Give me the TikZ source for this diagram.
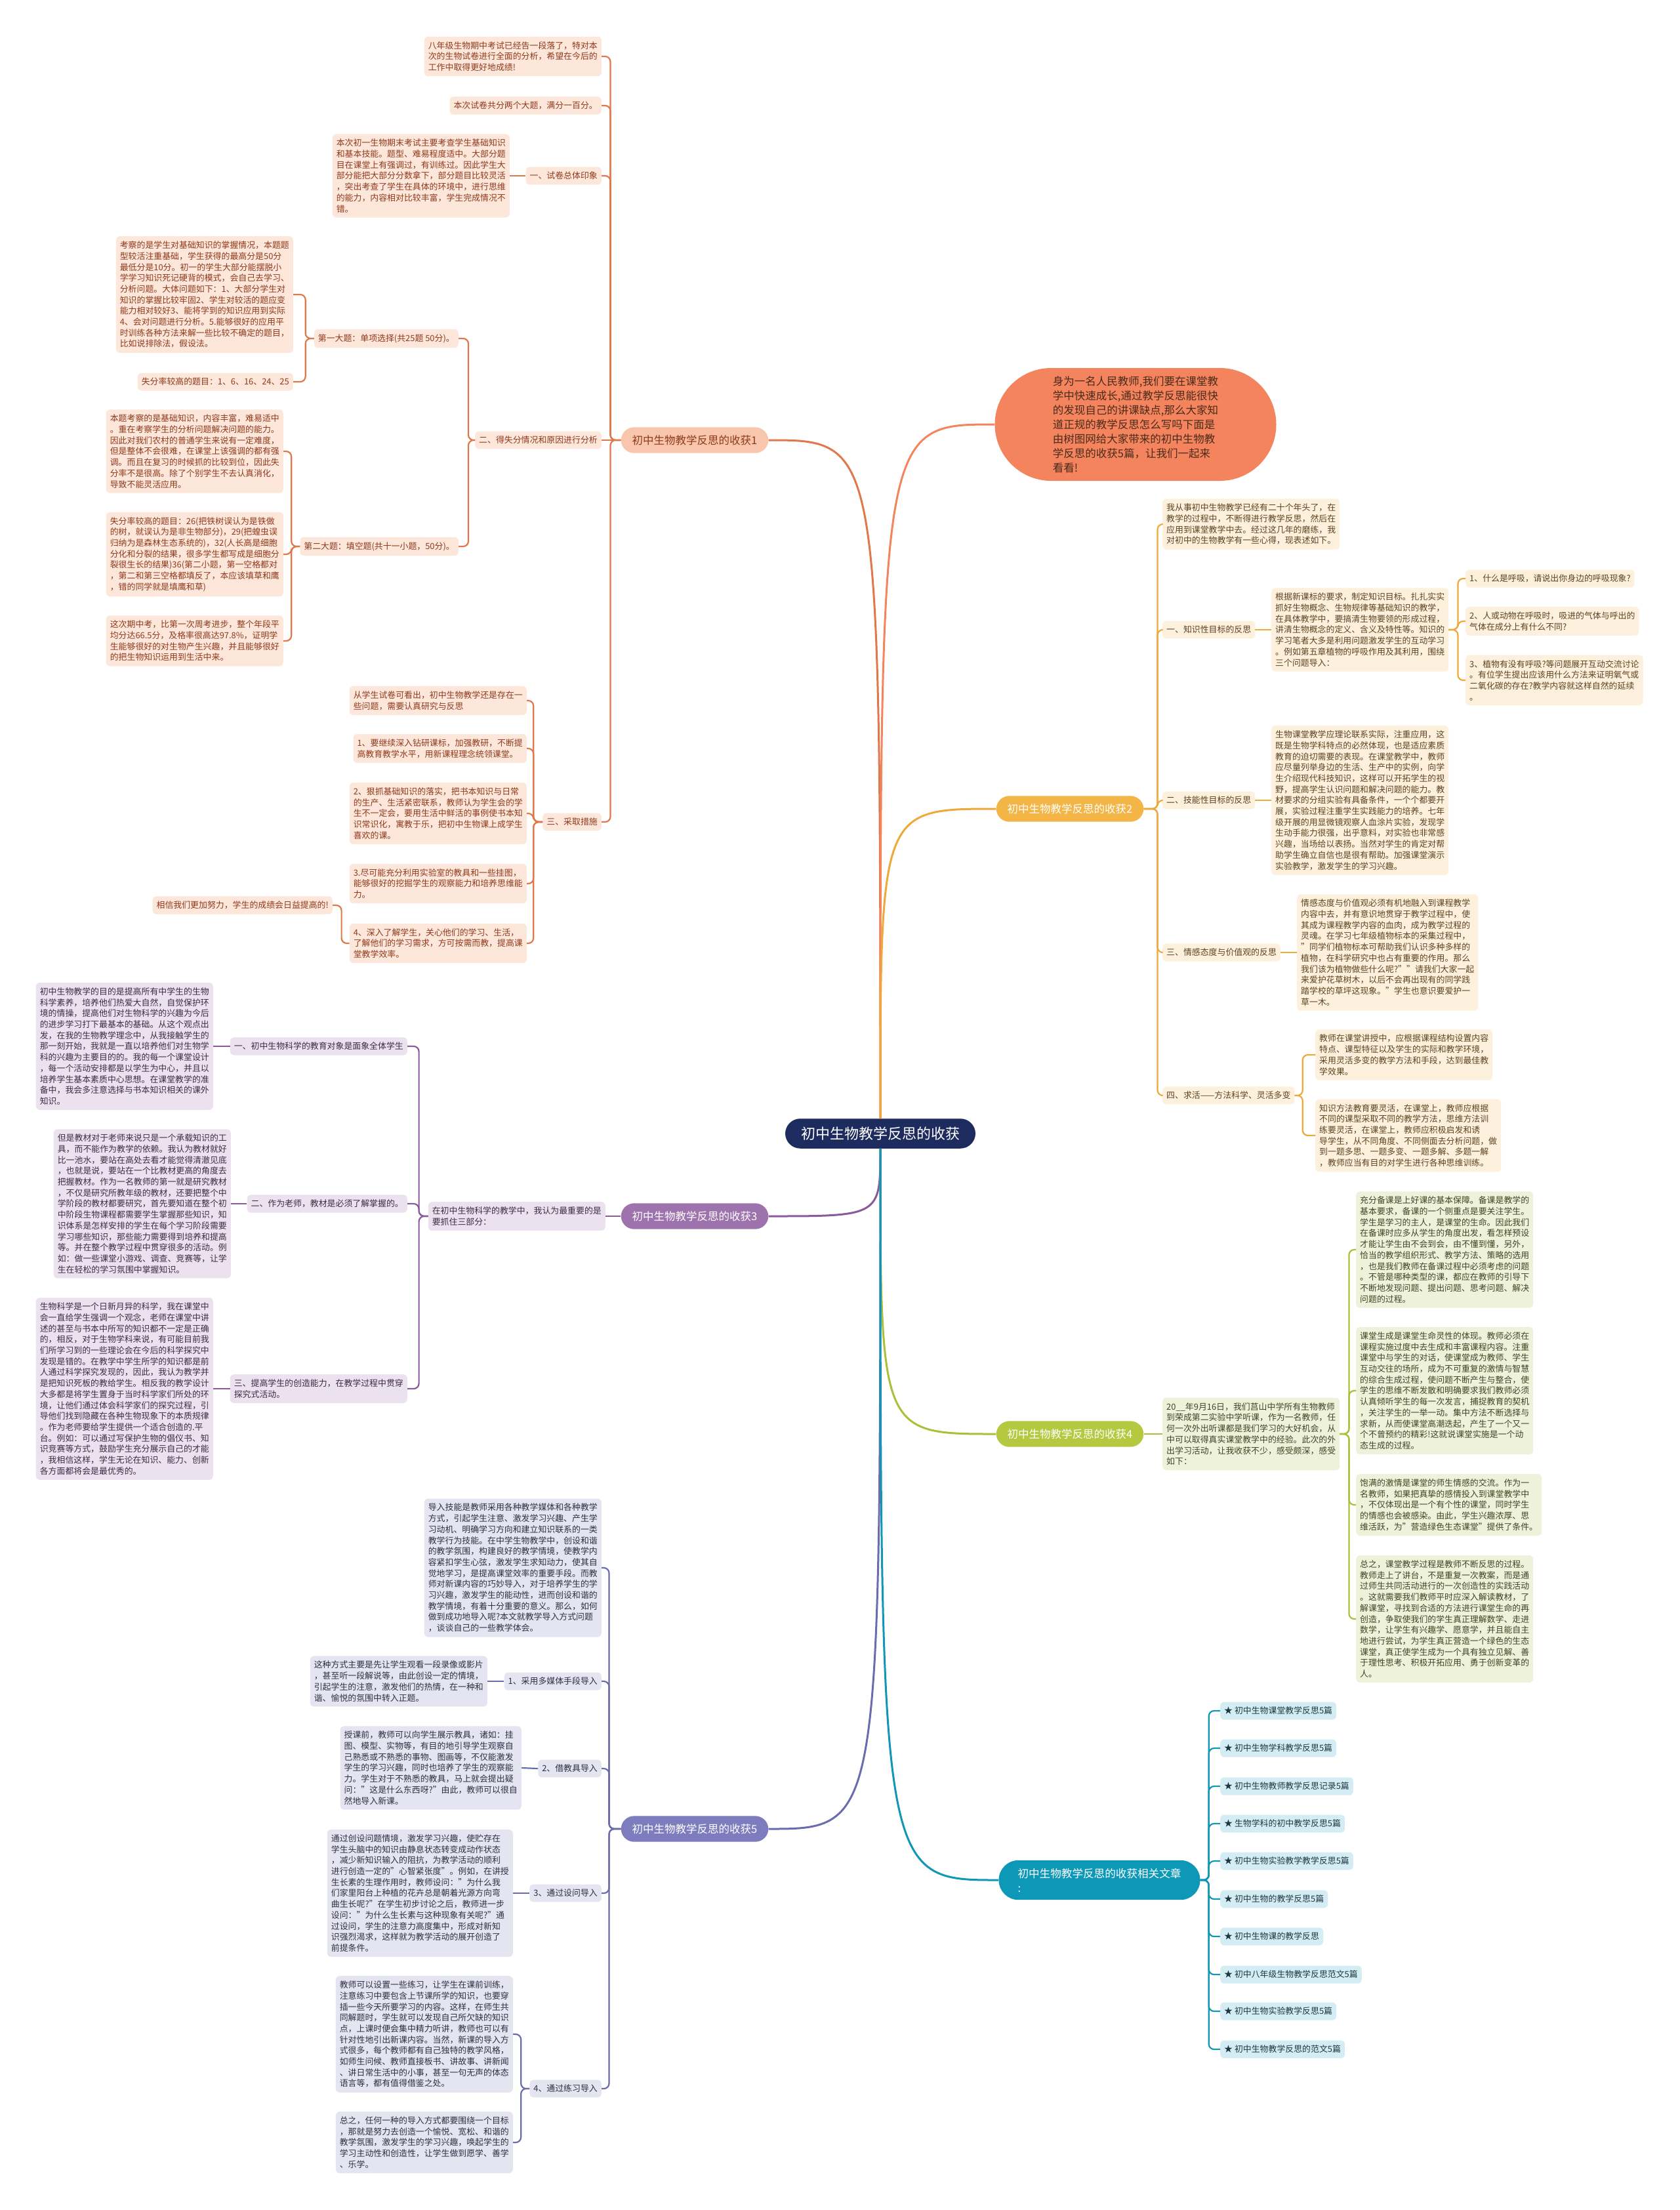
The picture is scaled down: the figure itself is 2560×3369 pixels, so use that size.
\documentclass[tikz,border=0pt]{standalone}
\usepackage{fontspec}
\setmainfont{Noto Sans CJK SC}
\usepackage{xcolor}
\usepackage{tikz}

\definecolor{hubFill}{HTML}{1D2B5E}
\definecolor{introFill}{HTML}{F4845E}
\definecolor{introText}{HTML}{4A2A1A}
\definecolor{orgLine}{HTML}{E0784C}
\definecolor{orgFill}{HTML}{FDE6DA}
\definecolor{orgText}{HTML}{8E3A1C}
\definecolor{orgTop}{HTML}{F8C6AC}
\definecolor{yelLine}{HTML}{EFA93A}
\definecolor{yelFill}{HTML}{FDF0DC}
\definecolor{yelText}{HTML}{5C4322}
\definecolor{yelTop}{HTML}{F3B545}
\definecolor{purLine}{HTML}{8A5A9C}
\definecolor{purFill}{HTML}{ECE1EF}
\definecolor{purText}{HTML}{3B2C44}
\definecolor{purTop}{HTML}{9D72AD}
\definecolor{grnLine}{HTML}{A7C23A}
\definecolor{grnFill}{HTML}{EEF2DA}
\definecolor{grnText}{HTML}{3F4523}
\definecolor{grnTop}{HTML}{B4C940}
\definecolor{bluLine}{HTML}{6B6BB0}
\definecolor{bluFill}{HTML}{E5E5F1}
\definecolor{bluText}{HTML}{2E2E44}
\definecolor{bluTop}{HTML}{7C7CBE}
\definecolor{tealLine}{HTML}{1197B6}
\definecolor{tealFill}{HTML}{D4EDF4}
\definecolor{tealText}{HTML}{1F3640}
\definecolor{tealTop}{HTML}{0E98B8}

\begin{document}
\begin{tikzpicture}[x=1pt, y=-1pt,
    every node/.style={font=\fontsize{12.9}{16.7}\selectfont, align=left,
        inner xsep=6pt, inner ysep=7.5pt, rounded corners=6pt},
    hub/.style={fill=hubFill, text=white, font=\fontsize{22}{26}\selectfont,
        inner xsep=24pt, inner ysep=12.5pt, rounded corners=23pt},
    gainbox/.style={font=\fontsize{16.5}{20}\selectfont, text=white,
        inner xsep=17pt, inner ysep=12pt, rounded corners=20pt},
    leafOrg/.style={fill=orgFill, text=orgText},
    leafYel/.style={fill=yelFill, text=yelText},
    leafPur/.style={fill=purFill, text=purText},
    leafGrn/.style={fill=grnFill, text=grnText},
    leafBlu/.style={fill=bluFill, text=bluText},
    leafTeal/.style={fill=tealFill, text=tealText},
    linkOrg/.style={draw=orgLine, line width=2.2pt, rounded corners=8pt},
    linkYel/.style={draw=yelLine, line width=2.2pt, rounded corners=8pt},
    linkPur/.style={draw=purLine, line width=2.2pt, rounded corners=8pt},
    linkGrn/.style={draw=grnLine, line width=2.2pt, rounded corners=8pt},
    linkBlu/.style={draw=bluLine, line width=2.2pt, rounded corners=8pt},
    linkTeal/.style={draw=tealLine, line width=2.2pt, rounded corners=8pt},
    hubLink/.style={line width=3pt}]

    \fill[white] (0,0) rectangle (2560,3369);
    \useasboundingbox (0,0) rectangle (2560,3369);

    % Nodes
    \node (hub) [hub] at (1342,1728) {初中生物教学反思的收获};

    \node (gain1) [gainbox, fill=orgTop, text=orgText] at (1059,671) {初中生物教学反思的收获1};
    \node (intro) [fill=introFill, text=introText, font=\fontsize{16.5}{22}\selectfont,
        minimum width=429pt, minimum height=172pt, rounded corners=86pt] at (1731,647)
        {身为一名人民教师,我们要在课堂教\\学中快速成长,通过教学反思能很快\\的发现自己的讲课缺点,那么大家知\\道正规的教学反思怎么写吗下面是\\由树图网给大家带来的初中生物教\\学反思的收获5篇，让我们一起来\\看看!};
    \node (gain2) [gainbox, fill=yelTop] at (1631,1233) {初中生物教学反思的收获2};
    \node (gain3) [gainbox, fill=purTop] at (1059,1854) {初中生物教学反思的收获3};
    \node (gain4) [gainbox, fill=grnTop] at (1631,2186) {初中生物教学反思的收获4};
    \node (gain5) [gainbox, fill=bluTop] at (1059,2788) {初中生物教学反思的收获5};
    \node (more) [gainbox, fill=tealTop, inner xsep=29pt, rounded corners=30pt,
        font=\fontsize{16.6}{22}\selectfont] at (1676,2866) {初中生物教学反思的收获相关文章\\:};

    % Branch 1
    \node (b1a) [leafOrg, anchor=east] at (917,86) {八年级生物期中考试已经告一段落了，特对本\\次的生物试卷进行全面的分析，希望在今后的\\工作中取得更好地成绩!};
    \node (b1b) [leafOrg, anchor=east] at (917,161) {本次试卷共分两个大题，满分一百分。};
    \node (b1c) [leafOrg, anchor=east] at (917,268) {一、试卷总体印象};
    \node (b1c1) [leafOrg, anchor=east] at (777,268) {本次初一生物期末考试主要考查学生基础知识\\和基本技能。题型、难易程度适中。大部分题\\目在课堂上有强调过，有训练过。因此学生大\\部分能把大部分分数拿下，部分题目比较灵活\\，突出考查了学生在具体的环境中，进行思维\\的能力，内容相对比较丰富，学生完成情况不\\错。};
    \node (b1d) [leafOrg, anchor=east] at (917,671) {二、得失分情况和原因进行分析};
    \node (b1d1) [leafOrg, anchor=east] at (699,516) {第一大题：单项选择(共25题 50分)。};
    \node (b1d1a) [leafOrg, anchor=east] at (447,449) {考察的是学生对基础知识的掌握情况，本题题\\型较活注重基础，学生获得的最高分是50分\\最低分是10分。初一的学生大部分能摆脱小\\学学习知识死记硬背的模式，会自己去学习、\\分析问题。大体问题如下：1、大部分学生对\\知识的掌握比较牢固2、学生对较活的题应变\\能力相对较好3、能将学到的知识应用到实际\\4、会对问题进行分析。5.能够很好的应用平\\时训练各种方法来解一些比较不确定的题目，\\比如说排除法，假设法。};
    \node (b1d1b) [leafOrg, anchor=east] at (447,582) {失分率较高的题目：1、6、16、24、25};
    \node (b1d2) [leafOrg, anchor=east] at (699,833) {第二大题：填空题(共十一小题，50分)。};
    \node (b1d2a) [leafOrg, anchor=east] at (432,688) {本题考察的是基础知识，内容丰富，难易适中\\。重在考察学生的分析问题解决问题的能力。\\因此对我们农村的普通学生来说有一定难度，\\但是整体不会很难，在课堂上该强调的都有强\\调。而且在复习的时候抓的比较到位，因此失\\分率不是很高。除了个别学生不去认真消化，\\导致不能灵活应用。};
    \node (b1d2b) [leafOrg, anchor=east] at (432,845) {失分率较高的题目：26(把铁树误认为是铁做\\的树，就误认为是非生物部分)，29(把蝗虫误\\归纳为是森林生态系统的)，32(人长高是细胞\\分化和分裂的结果，很多学生都写成是细胞分\\裂很生长的结果)36(第二小题，第一空格都对\\，第二和第三空格都填反了，本应该填草和鹰\\，错的同学就是填鹰和草)};
    \node (b1d2c) [leafOrg, anchor=east] at (432,977) {这次期中考，比第一次周考进步，整个年段平\\均分达66.5分，及格率很高达97.8\%，证明学\\生能够很好的对生物产生兴趣，并且能够很好\\的把生物知识运用到生活中来。};
    \node (b1e) [leafOrg, anchor=east] at (917,1253) {三、采取措施};
    \node (b1e1) [leafOrg, anchor=east] at (803,1068) {从学生试卷可看出，初中生物教学还是存在一\\些问题，需要认真研究与反思};
    \node (b1e2) [leafOrg, anchor=east] at (803,1141) {1、要继续深入钻研课标，加强教研，不断提\\高教育教学水平，用新课程理念统领课堂。};
    \node (b1e3) [leafOrg, anchor=east] at (803,1240) {2、狠抓基础知识的落实，把书本知识与日常\\的生产、生活紧密联系，教师认为学生会的学\\生不一定会，要用生活中鲜活的事例使书本知\\识常识化，寓教于乐，把初中生物课上成学生\\喜欢的课。};
    \node (b1e4) [leafOrg, anchor=east] at (803,1347) {3.尽可能充分利用实验室的教具和一些挂图，\\能够很好的挖掘学生的观察能力和培养思维能\\力。};
    \node (b1e5) [leafOrg, anchor=east] at (803,1438) {4、深入了解学生，关心他们的学习、生活，\\了解他们的学习需求，方可按需而教，提高课\\堂教学效率。};
    \node (b1e5a) [leafOrg, anchor=east] at (507,1380) {相信我们更加努力，学生的成绩会日益提高的!};

    % Branch 2
    \node (b2a) [leafYel, anchor=west] at (1772,799) {我从事初中生物教学已经有二十个年头了，在\\教学的过程中，不断得进行教学反思，然后在\\应用到课堂教学中去。经过这几年的磨练，我\\对初中的生物教学有一些心得，现表述如下。};
    \node (b2b) [leafYel, anchor=west] at (1772,960) {一、知识性目标的反思};
    \node (b2b1) [leafYel, anchor=west] at (1938,960) {根据新课标的要求，制定知识目标。扎扎实实\\抓好生物概念、生物规律等基础知识的教学，\\在具体教学中，要搞清生物要领的形成过程，\\讲清生物概念的定义、含义及特性等。知识的\\学习笔者大多是利用问题激发学生的互动学习\\。例如第五章植物的呼吸作用及其利用，围绕\\三个问题导入：};
    \node (b2b1a) [leafYel, anchor=west] at (2234,882) {1、什么是呼吸，请说出你身边的呼吸现象?};
    \node (b2b1b) [leafYel, anchor=west] at (2234,947) {2、人或动物在呼吸时，吸进的气体与呼出的\\气体在成分上有什么不同?};
    \node (b2b1c) [leafYel, anchor=west] at (2234,1037) {3、植物有没有呼吸?等问题展开互动交流讨论\\。有位学生提出应该用什么方法来证明氧气或\\二氧化碳的存在?教学内容就这样自然的延续\\。};
    \node (b2c) [leafYel, anchor=west] at (1772,1220) {二、技能性目标的反思};
    \node (b2c1) [leafYel, anchor=west] at (1938,1220) {生物课堂教学应理论联系实际，注重应用，这\\既是生物学科特点的必然体现，也是适应素质\\教育的迫切需要的表现。在课堂教学中，教师\\应尽量列举身边的生活、生产中的实例，向学\\生介绍现代科技知识，这样可以开拓学生的视\\野，提高学生认识问题和解决问题的能力。教\\材要求的分组实验有具备条件，一个个都要开\\展，实验过程注重学生实践能力的培养。七年\\级开展的用显微镜观察人血涂片实验，发现学\\生动手能力很强，出乎意料，对实验也非常感\\兴趣，当场给以表扬。当然对学生的肯定对帮\\助学生确立自信也是很有帮助。加强课堂演示\\实验教学，激发学生的学习兴趣。};
    \node (b2d) [leafYel, anchor=west] at (1772,1452) {三、情感态度与价值观的反思};
    \node (b2d1) [leafYel, anchor=west] at (1977,1452) {情感态度与价值观必须有机地融入到课程教学\\内容中去，并有意识地贯穿于教学过程中，使\\其成为课程教学内容的血肉，成为教学过程的\\灵魂。在学习七年级植物标本的采集过程中，\\"同学们植物标本可帮助我们认识多种多样的\\植物，在科学研究中也占有重要的作用。那么\\我们该为植物做些什么呢?""请我们大家一起\\来爱护花草树木，以后不会再出现有的同学践\\踏学校的草坪这现象。"学生也意识要爱护一\\草一木。};
    \node (b2e) [leafYel, anchor=west] at (1772,1670) {四、求活——方法科学、灵活多变};
    \node (b2e1) [leafYel, anchor=west] at (2005,1608) {教师在课堂讲授中，应根据课程结构设置内容\\特点、课型特征以及学生的实际和教学环境，\\采用灵活多变的教学方法和手段，达到最佳教\\学效果。};
    \node (b2e2) [leafYel, anchor=west] at (2005,1731) {知识方法教育要灵活，在课堂上，教师应根据\\不同的课型采取不同的教学方法，思维方法训\\练要灵活，在课堂上，教师应积极启发和诱\\导学生，从不同角度、不同侧面去分析问题，做\\到一题多思、一题多变、一题多解、多题一解\\，教师应当有目的对学生进行各种思维训练。};

    % Branch 3
    \node (b3) [leafPur, anchor=east] at (923,1854) {在初中生物科学的教学中，我认为最重要的是\\要抓住三部分：};
    \node (b3a) [leafPur, anchor=east] at (621,1595) {一、初中生物科学的教育对象是面象全体学生};
    \node (b3a1) [leafPur, anchor=east] at (325,1595) {初中生物教学的目的是提高所有中学生的生物\\科学素养，培养他们热爱大自然，自觉保护环\\境的情操，提高他们对生物科学的兴趣为今后\\的进步学习打下最基本的基础。从这个观点出\\发，在我的生物教学理念中，从我接触学生的\\那一刻开始，我就是一直以培养他们对生物学\\科的兴趣为主要目的的。我的每一个课堂设计\\，每一个活动安排都是以学生为中心，并且以\\培养学生基本素质中心思想。在课堂教学的准\\备中，我会多注意选择与书本知识相关的课外\\知识。};
    \node (b3b) [leafPur, anchor=east] at (621,1835) {二、作为老师，教材是必须了解掌握的。};
    \node (b3b1) [leafPur, anchor=east] at (352,1835) {但是教材对于老师来说只是一个承载知识的工\\具，而不能作为教学的依赖。我认为教材就好\\比一池水，要站在高处去看才能觉得清澈见底\\，也就是说，要站在一个比教材更高的角度去\\把握教材。作为一名教师的第一就是研究教材\\，不仅是研究所教年级的教材，还要把整个中\\学阶段的教材都要研究，首先要知道在整个初\\中阶段生物课程都需要学生掌握那些知识，知\\识体系是怎样安排的学生在每个学习阶段需要\\学习哪些知识，那些能力需要得到培养和提高\\等。并在整个教学过程中贯穿很多的活动。例\\如：做一些课堂小游戏、调查、竞赛等，让学\\生在轻松的学习氛围中掌握知识。};
    \node (b3c) [leafPur, anchor=east] at (621,2117) {三、提高学生的创造能力，在教学过程中贯穿\\探究式活动。};
    \node (b3c1) [leafPur, anchor=east] at (325,2117) {生物科学是一个日新月异的科学，我在课堂中\\会一直给学生强调一个观念，老师在课堂中讲\\述的甚至与书本中所写的知识都不一定是正确\\的，相反，对于生物学科来说，有可能目前我\\们所学习到的一些理论会在今后的科学探究中\\发现是错的。在教学中学生所学的知识都是前\\人通过科学探究发现的，因此，我认为教学并\\是把知识死板的教给学生。相反我的教学设计\\大多都是将学生置身于当时科学家们所处的环\\境，让他们通过体会科学家们的探究过程，引\\导他们找到隐藏在各种生物现象下的本质规律\\。作为老师要给学生提供一个适合创造的.平\\台。例如：可以通过写保护生物的倡仪书、知\\识竞赛等方式，鼓励学生充分展示自己的才能\\，我相信这样，学生无论在知识、能力、创新\\各方面都将会是最优秀的。};

    % Branch 4
    \node (b4a) [leafGrn, anchor=west] at (1772,2186) {20\_\_年9月16日，我们莒山中学所有生物教师\\到荣成第二实验中学听课，作为一名教师，任\\何一次外出听课都是我们学习的大好机会，从\\中可以取得真实课堂教学中的经验。此次的外\\出学习活动，让我收获不少，感受颇深，感受\\如下：};
    \node (b4a1) [leafGrn, anchor=west] at (2067,1905) {充分备课是上好课的基本保障。备课是教学的\\基本要求，备课的一个侧重点是要关注学生。\\学生是学习的主人，是课堂的生命。因此我们\\在备课时应多从学生的角度出发，看怎样预设\\才能让学生由不会到会，由不懂到懂，另外，\\恰当的教学组织形式、教学方法、策略的选用\\，也是我们教师在备课过程中必须考虑的问题\\。不管是哪种类型的课，都应在教师的引导下\\不断地发现问题、提出问题、思考问题、解决\\问题的过程。};
    \node (b4a2) [leafGrn, anchor=west] at (2067,2120) {课堂生成是课堂生命灵性的体现。教师必须在\\课程实施过度中去生成和丰富课程内容。注重\\课堂中与学生的对话，使课堂成为教师、学生\\互动交往的场所，成为不可重复的激情与智慧\\的综合生成过程，使问题不断产生与整合，使\\学生的思维不断发散和明确要求我们教师必须\\认真倾听学生的每一次发言，捕捉教育的契机\\，关注学生的一举一动。集中方法不断选择与\\求新，从而使课堂高潮迭起，产生了一个又一\\个不曾预约的精彩!这就说课堂实施是一个动\\态生成的过程。};
    \node (b4a3) [leafGrn, anchor=west] at (2067,2294) {饱满的激情是课堂的师生情感的交流。作为一\\名教师，如果把真挚的感情投入到课堂教学中\\，不仅体现出是一个有个性的课堂，同时学生\\的情感也会被感染。由此，学生兴趣浓厚、思\\维活跃，为"营造绿色生态课堂"提供了条件。};
    \node (b4a4) [leafGrn, anchor=west] at (2067,2468) {总之，课堂教学过程是教师不断反思的过程。\\教师走上了讲台，不是重复一次教案，而是通\\过师生共同活动进行的一次创造性的实践活动\\。这就需要我们教师平时应深入解读教材，了\\解课堂，寻找到合适的方法进行课堂生命的再\\创造，争取使我们的学生真正理解数学、走进\\数学，让学生有兴趣学、愿意学，并且能自主\\地进行尝试，为学生真正营造一个绿色的生态\\课堂，真正使学生成为一个具有独立见解、善\\于理性思考、积极开拓应用、勇于创新变革的\\人。};

    % Branch 5
    \node (b5a) [leafBlu, anchor=east] at (917,2390) {导入技能是教师采用各种教学媒体和各种教学\\方式，引起学生注意、激发学习兴趣、产生学\\习动机、明确学习方向和建立知识联系的一类\\教学行为技能。在中学生物教学中，创设和谐\\的教学氛围，构建良好的教学情境，使教学内\\容紧扣学生心弦，激发学生求知动力，使其自\\觉地学习，是提高课堂效率的重要手段。而教\\师对新课内容的巧妙导入，对于培养学生的学\\习兴趣，激发学生的能动性，进而创设和谐的\\教学情境，有着十分重要的意义。那么，如何\\做到成功地导入呢?本文就教学导入方式问题\\，谈谈自己的一些教学体会。};
    \node (b5b) [leafBlu, anchor=east] at (917,2563) {1、采用多媒体手段导入};
    \node (b5b1) [leafBlu, anchor=east] at (743,2563) {这种方式主要是先让学生观看一段录像或影片\\，甚至听一段解说等，由此创设一定的情境，\\引起学生的注意，激发他们的热情，在一种和\\谐、愉悦的氛围中转入正题。};
    \node (b5c) [leafBlu, anchor=east] at (917,2696) {2、借教具导入};
    \node (b5c1) [leafBlu, anchor=east] at (795,2695) {授课前，教师可以向学生展示教具，诸如：挂\\图、模型、实物等，有目的地引导学生观察自\\己熟悉或不熟悉的事物、图画等，不仅能激发\\学生的学习兴趣，同时也培养了学生的观察能\\力。学生对于不熟悉的教具，马上就会提出疑\\问："这是什么东西呀?"由此，教师可以很自\\然地导入新课。};
    \node (b5d) [leafBlu, anchor=east] at (917,2886) {3、通过设问导入};
    \node (b5d1) [leafBlu, anchor=east] at (782,2886) {通过创设问题情境，激发学习兴趣，使贮存在\\学生头脑中的知识由静息状态转变成动作状态\\，减少新知识输入的阻抗，为教学活动的顺利\\进行创造一定的"心智紧张度"。例如，在讲授\\生长素的生理作用时，教师设问："为什么我\\们家里阳台上种植的花卉总是朝着光源方向弯\\曲生长呢?"在学生初步讨论之后，教师进一步\\设问："为什么生长素与这种现象有关呢?"通\\过设问，学生的注意力高度集中，形成对新知\\识强烈渴求，这样就为教学活动的展开创造了\\前提条件。};
    \node (b5e) [leafBlu, anchor=east] at (917,3184) {4、通过练习导入};
    \node (b5e1) [leafBlu, anchor=east] at (782,3101) {教师可以设置一些练习，让学生在课前训练，\\注意练习中要包含上节课所学的知识，也要穿\\插一些今天所要学习的内容。这样，在师生共\\同解题时，学生就可以发现自己所欠缺的知识\\点，上课时便会集中精力听讲，教师也可以有\\针对性地引出新课内容。当然，新课的导入方\\式很多，每个教师都有自己独特的教学风格，\\如师生问候、教师直接板书、讲故事、讲新闻\\、讲日常生活中的小事，甚至一句无声的体态\\语言等，都有值得借鉴之处。};
    \node (b5e2) [leafBlu, anchor=east] at (782,3266) {总之，任何一种的导入方式都要围绕一个目标\\，那就是努力去创造一个愉悦、宽松、和谐的\\教学氛围，激发学生的学习兴趣，唤起学生的\\学习主动性和创造性，让学生做到愿学、善学\\、乐学。};

    % Related articles
    \node (m1) [leafTeal, anchor=west] at (1860,2608) {★ 初中生物课堂教学反思5篇};
    \node (m2) [leafTeal, anchor=west] at (1860,2665) {★ 初中生物学科教学反思5篇};
    \node (m3) [leafTeal, anchor=west] at (1860,2723) {★ 初中生物教师教学反思记录5篇};
    \node (m4) [leafTeal, anchor=west] at (1860,2780) {★ 生物学科的初中教学反思5篇};
    \node (m5) [leafTeal, anchor=west] at (1860,2837) {★ 初中生物实验教学教学反思5篇};
    \node (m6) [leafTeal, anchor=west] at (1860,2895) {★ 初中生物的教学反思5篇};
    \node (m7) [leafTeal, anchor=west] at (1860,2952) {★ 初中生物课的教学反思};
    \node (m8) [leafTeal, anchor=west] at (1860,3010) {★ 初中八年级生物教学反思范文5篇};
    \node (m9) [leafTeal, anchor=west] at (1860,3066) {★ 初中生物实验教学反思5篇};
    \node (m10) [leafTeal, anchor=west] at (1860,3124) {★ 初中生物教学反思的范文5篇};

    % Links from the hub
    \draw[hubLink, orgLine] (hub.north) .. controls (hub.north |- gain1.east) .. (gain1.east);
    \draw[hubLink, introFill] (hub.north) .. controls (hub.north |- intro.west) .. (intro.west);
    \draw[hubLink, yelLine] (hub.north) .. controls (hub.north |- gain2.west) .. (gain2.west);
    \draw[hubLink, purLine] (hub.south) .. controls (hub.south |- gain3.east) .. (gain3.east);
    \draw[hubLink, grnLine] (hub.south) .. controls (hub.south |- gain4.west) .. (gain4.west);
    \draw[hubLink, bluLine] (hub.south) .. controls (hub.south |- gain5.east) .. (gain5.east);
    \draw[hubLink, tealLine] (hub.south) .. controls (hub.south |- more.west) .. (more.west);

    % Branch 1 links
    \foreach \k in {b1a, b1b, b1c, b1e}
        \draw[linkOrg] (gain1.west) -- ++(-16,0) |- (\k.east);
    \draw[linkOrg] (gain1.west) -- (b1d.east);
    \draw[linkOrg] (b1c.west) -- (b1c1.east);
    \foreach \k in {b1d1, b1d2}
        \draw[linkOrg] (b1d.west) -- ++(-10,0) |- (\k.east);
    \foreach \k in {b1d1a, b1d1b}
        \draw[linkOrg] (b1d1.west) -- ++(-13,0) |- (\k.east);
    \foreach \k in {b1d2a, b1d2b, b1d2c}
        \draw[linkOrg] (b1d2.west) -- ++(-13,0) |- (\k.east);
    \foreach \k in {b1e1, b1e2, b1e3, b1e4, b1e5}
        \draw[linkOrg] (b1e.west) -- ++(-14,0) |- (\k.east);
    \draw[linkOrg] (b1e5.west) -- ++(-12,0) |- (b1e5a.east);

    % Branch 2 links
    \foreach \k in {b2a, b2b, b2c, b2d, b2e}
        \draw[linkYel] (gain2.east) -- ++(21,0) |- (\k.west);
    \draw[linkYel] (b2b.east) -- (b2b1.west);
    \foreach \k in {b2b1a, b2b1b, b2b1c}
        \draw[linkYel] (b2b1.east) -- ++(14,0) |- (\k.west);
    \draw[linkYel] (b2c.east) -- (b2c1.west);
    \draw[linkYel] (b2d.east) -- (b2d1.west);
    \foreach \k in {b2e1, b2e2}
        \draw[linkYel] (b2e.east) -- ++(12,0) |- (\k.west);

    % Branch 3 links
    \draw[linkPur] (gain3.west) -- (b3.east);
    \foreach \k in {b3a, b3b, b3c}
        \draw[linkPur] (b3.west) -- ++(-14,0) |- (\k.east);
    \draw[linkPur] (b3a.west) -- (b3a1.east);
    \draw[linkPur] (b3b.west) -- (b3b1.east);
    \draw[linkPur] (b3c.west) -- (b3c1.east);

    % Branch 4 links
    \draw[linkGrn] (gain4.east) -- (b4a.west);
    \foreach \k in {b4a1, b4a2, b4a3, b4a4}
        \draw[linkGrn] (b4a.east) -- ++(14,0) |- (\k.west);

    % Branch 5 links
    \foreach \k in {b5a, b5b, b5c, b5d, b5e}
        \draw[linkBlu] (gain5.west) -- ++(-18,0) |- (\k.east);
    \draw[linkBlu] (b5b.west) -- (b5b1.east);
    \draw[linkBlu] (b5c.west) -- (b5c1.east);
    \draw[linkBlu] (b5d.west) -- (b5d1.east);
    \foreach \k in {b5e1, b5e2}
        \draw[linkBlu] (b5e.west) -- ++(-13,0) |- (\k.east);

    % Related articles links
    \foreach \k in {m1, m2, m3, m4, m5, m6, m7, m8, m9, m10}
        \draw[linkTeal] (more.east) -- ++(13,0) |- (\k.west);
\end{tikzpicture}
\end{document}
